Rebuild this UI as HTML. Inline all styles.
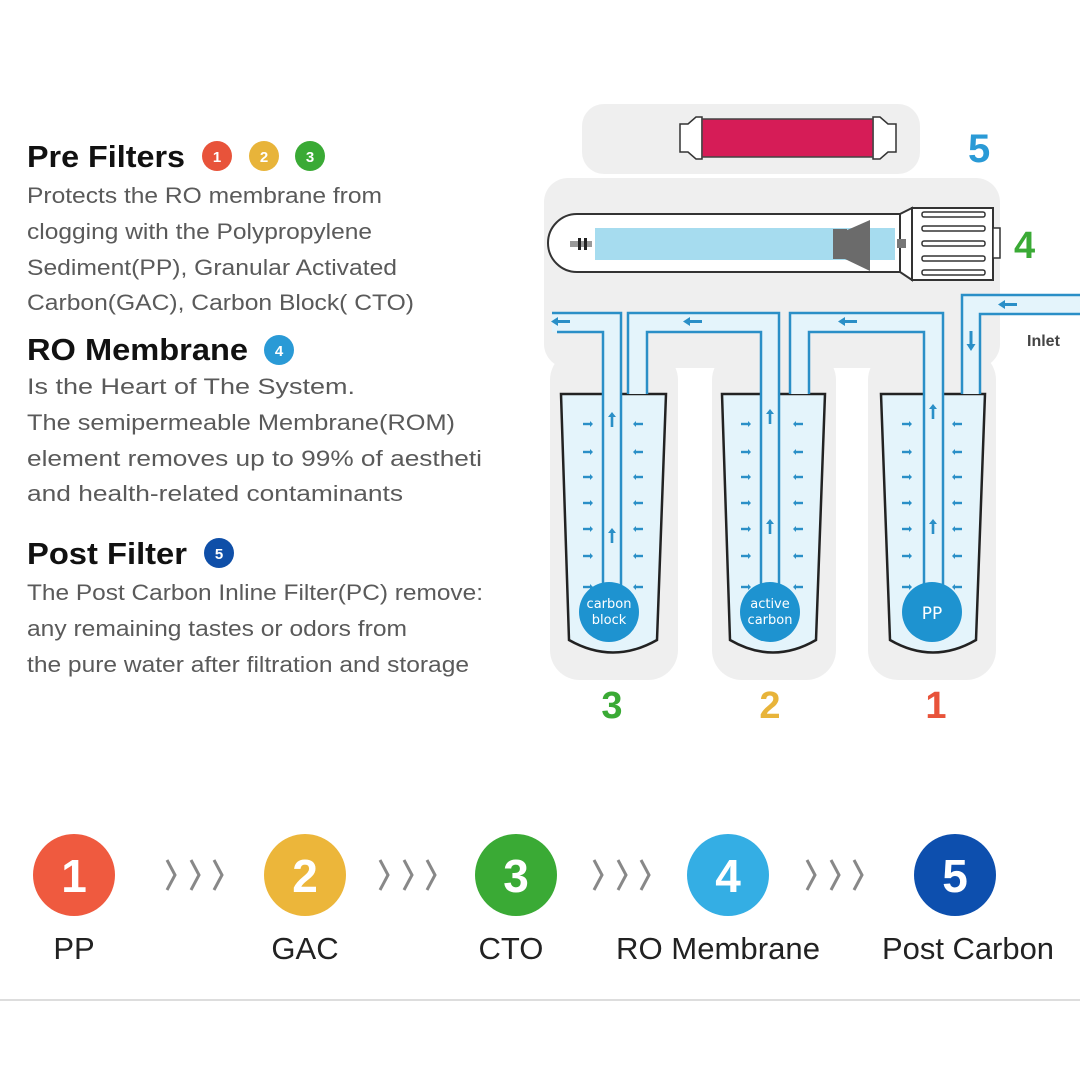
<!DOCTYPE html>
<html><head><meta charset="utf-8"><style>
html,body{margin:0;padding:0;background:#fff}
svg{display:block}
.b{font-family:"Liberation Sans",sans-serif;font-size:22px;fill:#5a5a5a}
.h{font-family:"Liberation Sans",sans-serif;font-size:31px;font-weight:bold;fill:#111}
.lab{font-family:"Liberation Sans",sans-serif;font-size:31px;fill:#222}
.n{font-family:"Liberation Sans",sans-serif;font-weight:bold;fill:#fff;text-anchor:middle}
</style></head><body>
<svg width="1080" height="1080" viewBox="0 0 1080 1080" xmlns="http://www.w3.org/2000/svg">
<defs>
<g id="dash">
 <g fill="#2a8fc7">
  <rect x="-4" y="-1.2" width="7" height="2.4"/><path d="M3,-3 L6,0 L3,3Z"/>
 </g>
</g>
<g id="dashl">
 <g fill="#2a8fc7">
  <rect x="-3" y="-1.2" width="7" height="2.4"/><path d="M-3,-3 L-6,0 L-3,3Z"/>
 </g>
</g>
<g id="up"><rect x="-1.3" y="-4" width="2.6" height="11" fill="#2a8fc7"/><path d="M-4,-3 L0,-8 L4,-3Z" fill="#2a8fc7"/></g>
<g id="col">
 <use href="#dash" y="424"/><use href="#dash" y="452"/><use href="#dash" y="477"/><use href="#dash" y="503"/><use href="#dash" y="529"/><use href="#dash" y="556"/><use href="#dash" y="587"/>
</g>
<g id="coll">
 <use href="#dashl" y="424"/><use href="#dashl" y="452"/><use href="#dashl" y="477"/><use href="#dashl" y="503"/><use href="#dashl" y="529"/><use href="#dashl" y="556"/><use href="#dashl" y="587"/>
</g>
</defs>

<g fill="#efefef">
 <rect x="582" y="104" width="338" height="70" rx="22"/>
 <rect x="544" y="178" width="456" height="190" rx="24"/>
 <rect x="550" y="350" width="128" height="330" rx="30"/>
 <rect x="712" y="350" width="124" height="330" rx="30"/>
 <rect x="868" y="350" width="128" height="330" rx="30"/>
</g>

<path d="M680,124 L688,124 L696,117 L702,117 L702,159 L696,159 L688,152 L680,152Z" fill="#fff" stroke="#333" stroke-width="1.5"/>
<path d="M896,124 L888,124 L880,117 L873,117 L873,159 L880,159 L888,152 L896,152Z" fill="#fff" stroke="#333" stroke-width="1.5"/>
<rect x="702" y="119" width="171" height="38" fill="#d61c57" stroke="#444" stroke-width="1.5"/>
<text x="968" y="162" font-family="Liberation Sans,sans-serif" font-weight="bold" font-size="40" fill="#2a9ad6">5</text>

<path d="M900,214 L577,214 A29,29 0 0 0 577,272 L900,272Z" fill="#fff" stroke="#333" stroke-width="2"/>
<path d="M900,214 L912,208 L912,280 L900,272Z" fill="#fff" stroke="#333" stroke-width="2"/>
<rect x="912" y="208" width="81" height="72" fill="#fff" stroke="#333" stroke-width="2"/>
<rect x="993" y="228" width="7" height="30" fill="#fff" stroke="#333" stroke-width="1.5"/>
<g fill="#fff" stroke="#333" stroke-width="1.5">
 <rect x="922" y="212" width="63" height="5" rx="2"/>
 <rect x="922" y="226" width="63" height="5" rx="2"/>
 <rect x="922" y="241" width="63" height="5" rx="2"/>
 <rect x="922" y="256" width="63" height="5" rx="2"/>
 <rect x="922" y="270" width="63" height="5" rx="2"/>
</g>
<rect x="595" y="228" width="300" height="32" fill="#a6dcef"/>
<rect x="833" y="229" width="14" height="30" fill="#6b6b6b"/>
<path d="M845,231 L870,220 L870,271 L845,259Z" fill="#6b6b6b"/>
<rect x="897" y="239" width="9" height="9" fill="#777"/>
<rect x="570" y="241" width="22" height="6" fill="#999"/>
<rect x="578" y="238" width="3" height="12" fill="#222"/><rect x="584" y="238" width="3" height="12" fill="#222"/>
<text x="1014" y="258" font-family="Liberation Sans,sans-serif" font-weight="bold" font-size="38" fill="#3aaa35">4</text>

<g fill="#e4f4fb" stroke="#222" stroke-width="2.5">
 <path d="M561,394 L666,394 L657,640 Q613,665 569,640Z"/>
 <path d="M722,394 L825,394 L816,640 Q773,665 730,640Z"/>
 <path d="M881,394 L985,394 L976,640 Q933,665 890,640Z"/>
</g>

<g fill="#e4f4fb">
 <path d="M552,313 L621,313 L621,600 L603,600 L603,332 L552,332Z"/>
 <path d="M628,394 L628,313 L779,313 L779,600 L761,600 L761,332 L647,332 L647,394Z"/>
 <path d="M790,394 L790,313 L943,313 L943,600 L924,600 L924,332 L809,332 L809,394Z"/>
 <path d="M962,394 L962,295 L1080,295 L1080,314 L980,314 L980,394Z"/>
</g>
<g fill="none" stroke="#2a8fc7" stroke-width="2.5">
 <path d="M552,313 L621,313 L621,600"/>
 <path d="M557,332 L603,332 L603,600"/>
 <path d="M628,394 L628,313 L779,313 L779,600"/>
 <path d="M647,394 L647,332 L761,332 L761,600"/>
 <path d="M790,394 L790,313 L943,313 L943,600"/>
 <path d="M809,394 L809,332 L924,332 L924,600"/>
 <path d="M962,394 L962,295 L1080,295"/>
 <path d="M980,394 L980,314 L1080,314"/>
</g>
<g fill="#2a8fc7">
 <rect x="556" y="320" width="14" height="3"/><path d="M551,321.5 L558,317 L558,326Z"/>
 <rect x="688" y="320" width="14" height="3"/><path d="M683,321.5 L690,317 L690,326Z"/>
 <rect x="843" y="320" width="14" height="3"/><path d="M838,321.5 L845,317 L845,326Z"/>
 <rect x="1003" y="303" width="14" height="3"/><path d="M998,304.5 L1005,300 L1005,309Z"/>
 <rect x="969.5" y="331" width="3" height="14"/><path d="M971,351 L966.5,344 L975.5,344Z"/>
</g>
<text x="1027" y="346" font-family="Liberation Sans,sans-serif" font-weight="bold" font-size="16" fill="#444">Inlet</text>

<use href="#col" x="587"/><use href="#coll" x="639"/>
<use href="#col" x="745"/><use href="#coll" x="799"/>
<use href="#col" x="906"/><use href="#coll" x="958"/>
<use href="#up" x="612" y="420"/><use href="#up" x="612" y="536"/>
<use href="#up" x="770" y="417"/><use href="#up" x="770" y="527"/>
<use href="#up" x="933" y="412"/><use href="#up" x="933" y="527"/>

<circle cx="609" cy="612" r="30" fill="#1e93d0"/>
<circle cx="770" cy="612" r="30" fill="#1e93d0"/>
<circle cx="932" cy="612" r="30" fill="#1e93d0"/>
<g font-family="DejaVu Sans,sans-serif" font-size="13" fill="#fff" text-anchor="middle">
 <text x="609" y="608">carbon</text><text x="609" y="624">block</text>
 <text x="770" y="608">active</text><text x="770" y="624">carbon</text>
 <text x="932" y="619" font-size="17">PP</text>
</g>
<g font-family="Liberation Sans,sans-serif" font-weight="bold" font-size="38" text-anchor="middle">
 <text x="612" y="718" fill="#3aaa35">3</text>
 <text x="770" y="718" fill="#e8b43a">2</text>
 <text x="936" y="718" fill="#e8533a">1</text>
</g>

<text class="h" x="27" y="167" textLength="158" lengthAdjust="spacingAndGlyphs">Pre Filters</text>
<circle cx="217" cy="156" r="15" fill="#e8533a"/><text class="n" x="217" y="162" font-size="15">1</text>
<circle cx="264" cy="156" r="15" fill="#e8b43a"/><text class="n" x="264" y="162" font-size="15">2</text>
<circle cx="310" cy="156" r="15" fill="#3aaa35"/><text class="n" x="310" y="162" font-size="15">3</text>
<text class="b" x="27" y="203" textLength="355" lengthAdjust="spacingAndGlyphs">Protects the RO membrane from</text>
<text class="b" x="27" y="239" textLength="345" lengthAdjust="spacingAndGlyphs">clogging with the Polypropylene</text>
<text class="b" x="27" y="275" textLength="370" lengthAdjust="spacingAndGlyphs">Sediment(PP), Granular Activated</text>
<text class="b" x="27" y="310" textLength="387" lengthAdjust="spacingAndGlyphs">Carbon(GAC), Carbon Block( CTO)</text>

<text class="h" x="27" y="360" textLength="221" lengthAdjust="spacingAndGlyphs">RO Membrane</text>
<circle cx="279" cy="350" r="15" fill="#2a9ad6"/><text class="n" x="279" y="356" font-size="15">4</text>
<text class="b" x="27" y="394" textLength="328" lengthAdjust="spacingAndGlyphs">Is the Heart of The System.</text>
<text class="b" x="27" y="430" textLength="428" lengthAdjust="spacingAndGlyphs">The semipermeable Membrane(ROM)</text>
<text class="b" x="27" y="466" textLength="455" lengthAdjust="spacingAndGlyphs">element removes up to 99% of aestheti</text>
<text class="b" x="27" y="501" textLength="376" lengthAdjust="spacingAndGlyphs">and health-related contaminants</text>

<text class="h" x="27" y="564" textLength="160" lengthAdjust="spacingAndGlyphs">Post Filter</text>
<circle cx="219" cy="553" r="15" fill="#0f4fa8"/><text class="n" x="219" y="559" font-size="15">5</text>
<text class="b" x="27" y="600" textLength="456" lengthAdjust="spacingAndGlyphs">The Post Carbon Inline Filter(PC) remove:</text>
<text class="b" x="27" y="636" textLength="380" lengthAdjust="spacingAndGlyphs">any remaining tastes or odors from</text>
<text class="b" x="27" y="672" textLength="442" lengthAdjust="spacingAndGlyphs">the pure water after filtration and storage</text>

<circle cx="74" cy="875" r="41" fill="#ef5a3f"/><text class="n" x="74" y="892" font-size="46">1</text>
<circle cx="305" cy="875" r="41" fill="#ecb63a"/><text class="n" x="305" y="892" font-size="46">2</text>
<circle cx="516" cy="875" r="41" fill="#3aaa35"/><text class="n" x="516" y="892" font-size="46">3</text>
<circle cx="728" cy="875" r="41" fill="#34aee4"/><text class="n" x="728" y="892" font-size="46">4</text>
<circle cx="955" cy="875" r="41" fill="#0d4fae"/><text class="n" x="955" y="892" font-size="46">5</text>
<g fill="none" stroke="#888" stroke-width="3">
 <path d="M167,860 L175,875 L167,890 M191,860 L199,875 L191,890 M214,860 L222,875 L214,890"/>
 <path d="M380,860 L388,875 L380,890 M404,860 L412,875 L404,890 M427,860 L435,875 L427,890"/>
 <path d="M594,860 L602,875 L594,890 M618,860 L626,875 L618,890 M641,860 L649,875 L641,890"/>
 <path d="M807,860 L815,875 L807,890 M831,860 L839,875 L831,890 M854,860 L862,875 L854,890"/>
</g>
<text class="lab" x="74" y="959" text-anchor="middle">PP</text>
<text class="lab" x="305" y="959" text-anchor="middle">GAC</text>
<text class="lab" x="511" y="959" text-anchor="middle">CTO</text>
<text class="lab" x="718" y="959" text-anchor="middle" textLength="204" lengthAdjust="spacingAndGlyphs">RO Membrane</text>
<text class="lab" x="968" y="959" text-anchor="middle" textLength="172" lengthAdjust="spacingAndGlyphs">Post Carbon</text>
<rect x="0" y="999" width="1080" height="2" fill="#ddd"/>
</svg>
</body></html>
